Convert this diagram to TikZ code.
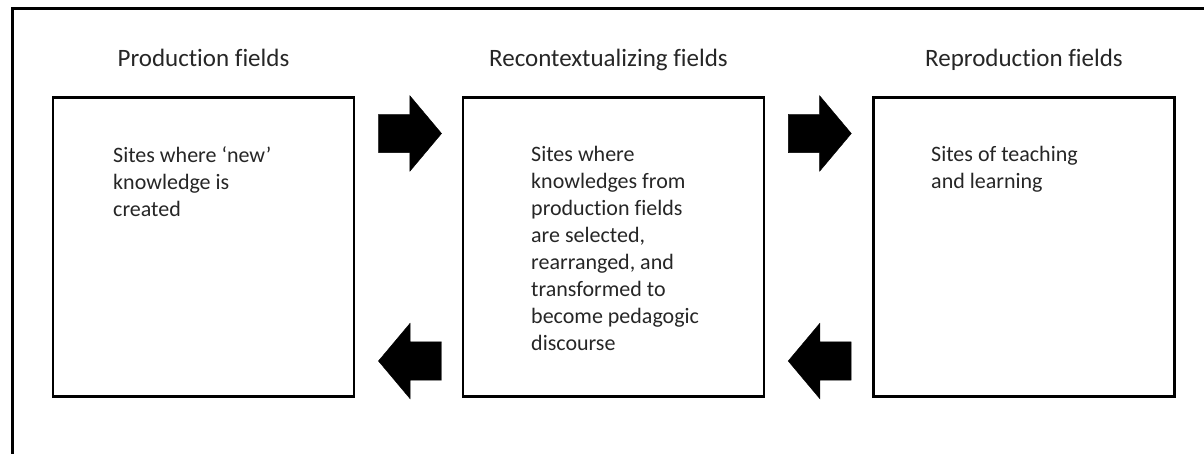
\documentclass[tikz,border=0pt]{standalone}
\usepackage{fontspec}
\setmainfont[Ligatures=NoCommon]{Carlito}
\usepackage{tikz}
\usetikzlibrary{calc,shapes.arrows}

\begin{document}
\begin{tikzpicture}[x=1pt,y=-1pt,
		field/.style={draw, line width=2.6pt, minimum width=301pt, minimum height=299pt},
		fieldtitle/.style={font=\fontsize{25}{30}\selectfont, text=black!85, anchor=base},
		fieldtext/.style={font=\fontsize{22}{27}\selectfont, text=black!85, align=left, anchor=north west, inner sep=0pt},
		blockarrow/.style={single arrow, fill=black, draw=black, line width=0.4pt, inner xsep=0pt, inner ysep=19pt,
			minimum height=63pt, single arrow head extend=18.5pt, single arrow tip angle=100}
	]
	\useasboundingbox (0,0) rectangle (1204,454);

	% open frame round the three fields
	\draw[line width=3pt] (12,456) -- (12,9) -- (1206,9);

	\node[field] (prod) at (203.5,247) {};
	\node[field] (recon) at (613.5,247) {};
	\node[field] (repro) at (1024,247) {};

	\node[fieldtitle] (prodtitle) at ($(prod.north)+(0,-30)$) {Production fields};
	\node[fieldtitle] (recontitle) at ($(recon.north)+(-5,-30)$) {Recontextualizing fields};
	\node[fieldtitle] (reprotitle) at ($(repro.north)+(0,-30)$) {Reproduction fields};

	\node[fieldtext] (prodtext) at (113,146) {Sites where ‘new’\\knowledge is\\created};
	\node[fieldtext] (recontext) at (531,146) {Sites where\\knowledges from\\production fields\\are selected,\\rearranged, and\\transformed to\\become pedagogic\\discourse};
	\node[fieldtext] (reprotext) at (931,146) {Sites of teaching\\and learning};

	% forward arrows on top, backward arrows below
	\node[blockarrow] (fwdA) at ($(prod.east)!0.5!(recon.west)+(-6.5,-113.5)$) {};
	\node[blockarrow] (fwdB) at ($(recon.east)!0.5!(repro.west)+(-7,-113.5)$) {};
	\node[blockarrow, shape border rotate=180] (backA) at ($(prod.east)!0.5!(recon.west)+(9.5,114)$) {};
	\node[blockarrow, shape border rotate=180] (backB) at ($(recon.east)!0.5!(repro.west)+(9,114)$) {};
\end{tikzpicture}
\end{document}
